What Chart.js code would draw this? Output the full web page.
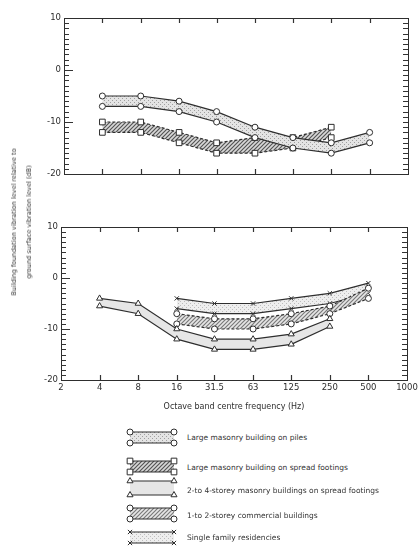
<!DOCTYPE html>
<html>
<head>
<meta charset="utf-8">
<script src="https://cdn.jsdelivr.net/npm/chart.js@4/dist/chart.umd.min.js"></script>
<style>
  body { margin: 0; background: #fff; width: 418px; height: 548px; overflow: hidden; position: relative; font-family: "DejaVu Sans", sans-serif; color: #333; }
  canvas { position: absolute; left: 0; }
  #ytitle { position: absolute; left: 22px; top: 222px; transform: translate(-50%, -50%) rotate(-90deg); white-space: nowrap; text-align: center; font-size: 6.5px; line-height: 15px; }
  .key { position: absolute; left: 126px; }
  .keytext { position: absolute; left: 187px; font-size: 7.5px; white-space: nowrap; transform: translateY(-50%); }
</style>
</head>
<body>
<canvas id="upper" width="418" height="190" style="top:0"></canvas>
<canvas id="lower" width="418" height="210" style="top:209px"></canvas>
<div id="ytitle">Building foundation vibration level relative to<br>ground surface vibration level (dB)</div>
<div id="legend"></div>
<script>
// octave band centre frequencies (Hz)
const freqs = [4, 8, 16, 31.5, 63, 125, 250, 500];
const freqTicks = [2, 4, 8, 16, 31.5, 63, 125, 250, 500, 1000];
const levelTicks = [-20, -10, 0, 10];

// upper plot (dB), starting at 4 Hz
const pilesHigh = [-5, -5, -6, -8, -11, -13, -14, -12];
const pilesLow = [-7, -7, -8, -10, -13, -15, -16, -14];
const spreadHigh = [-10, -10, -12, -14, -13, -13, -11];
const spreadLow = [-12, -12, -14, -16, -16, -15, -13];

// lower plot (dB); storey from 4 Hz, the other two from 16 Hz
const storeyHigh = [-4, -5, -10, -12, -12, -11, -8];
const storeyLow = [-5.5, -7, -12, -14, -14, -13, -9.5];
const commercialHigh = [-7, -8, -8, -7, -5.5, -2];
const commercialLow = [-9, -10, -10, -9, -7, -4];
const familyHigh = [-4, -5, -5, -4, -3, -1];
const familyLow = [-6, -7, -7, -6, -5, -3];

const legendLabels = [
  'Large masonry building on piles',
  'Large masonry building on spread footings',
  '2-to 4-storey masonry buildings on spread footings',
  '1-to 2-storey commercial buildings',
  'Single family residencies'
];

const ink = '#2e2e2e';
const tickFont = { family: 'DejaVu Sans', size: 8.5 };
// length of the inward tick marks, per scale id
const markLength = { x: 5, xTop: 5, y: 9, yMinor: 5, yRight: 5 };

function stipple(bg, dot) {
  const c = document.createElement('canvas');
  c.width = 4; c.height = 4;
  const g = c.getContext('2d');
  g.fillStyle = bg; g.fillRect(0, 0, 4, 4);
  g.fillStyle = dot; g.fillRect(0, 0, 1, 1); g.fillRect(2, 2, 1, 1);
  return g.createPattern(c, 'repeat');
}

function hatch(bg, line) {
  const c = document.createElement('canvas');
  c.width = 4; c.height = 4;
  const g = c.getContext('2d');
  g.fillStyle = bg; g.fillRect(0, 0, 4, 4);
  g.strokeStyle = line; g.lineWidth = 1.2;
  g.beginPath();
  g.moveTo(0, 4); g.lineTo(4, 0);
  g.moveTo(-1, 1); g.lineTo(1, -1);
  g.moveTo(3, 5); g.lineTo(5, 3);
  g.stroke();
  return g.createPattern(c, 'repeat');
}

const styles = [
  { marker: 'circle', r: 3, fill: stipple('#e4e4e4', '#a0a0a0'), dash: [] },
  { marker: 'rect', r: 4, fill: hatch('#d8d8d8', '#555'), dash: [3, 2] },
  { marker: 'triangle', r: 3.5, fill: '#e6e6e6', dash: [] },
  { marker: 'circle', r: 3, fill: hatch('#e6e6e6', '#7a7a7a'), dash: [3, 2] },
  { marker: 'crossRot', r: 3, fill: stipple('#eeeeee', '#bdbdbd'), dash: [] }
];

// tick marks drawn inside the frame, at each scale's own ticks
const innerTicks = {
  id: 'innerTicks',
  afterDatasetsDraw(chart) {
    const ctx = chart.ctx;
    const a = chart.chartArea;
    ctx.save();
    ctx.setLineDash([]);
    ctx.strokeStyle = '#333';
    ctx.lineWidth = 1.2;
    ctx.beginPath();
    Object.keys(chart.scales).forEach(id => {
      const s = chart.scales[id];
      const len = markLength[id] || 5;
      s.ticks.forEach(t => {
        const p = Math.round(s.getPixelForValue(t.value)) + 0.5;
        if (s.isHorizontal()) {
          if (p <= a.left + 1 || p >= a.right - 1) return;
          const y0 = s.position === 'top' ? a.top : a.bottom;
          const dir = s.position === 'top' ? 1 : -1;
          ctx.moveTo(p, y0); ctx.lineTo(p, y0 + dir * len);
        } else {
          if (p <= a.top + 1 || p >= a.bottom - 1) return;
          const x0 = s.position === 'left' ? a.left : a.right;
          const dir = s.position === 'left' ? 1 : -1;
          ctx.moveTo(x0, p); ctx.lineTo(x0 + dir * len, p);
        }
      });
    });
    ctx.stroke();
    ctx.restore();
  }
};

function pts(arr, start) {
  return arr.map((v, i) => ({ x: freqs[start + i], y: v }));
}

function band(high, low, start, st) {
  const line = {
    borderColor: ink, borderWidth: 1.2, borderDash: st.dash, tension: 0,
    pointStyle: st.marker, pointRadius: st.r, pointBackgroundColor: '#fff',
    pointBorderColor: ink, pointBorderWidth: 1
  };
  return [
    Object.assign({}, line, { data: pts(high, start), fill: false }),
    Object.assign({}, line, { data: pts(low, start), fill: '-1', backgroundColor: st.fill })
  ];
}

function scales(showX, leftW, rightW, bottomH) {
  const noGrid = { display: false, drawTicks: false };
  const freqAxis = (pos, h, labels) => ({
    type: 'logarithmic', position: pos, min: 2, max: 1000,
    afterBuildTicks: s => { s.ticks = freqTicks.map(v => ({ value: v })); },
    ticks: { display: labels, autoSkip: false, maxRotation: 0, padding: 3, color: ink, font: tickFont, callback: v => String(v) },
    grid: noGrid,
    border: { color: ink },
    afterFit: s => { s.height = h; s.paddingLeft = 0; s.paddingRight = 0; }
  });
  const x = freqAxis('bottom', bottomH, showX);
  x.title = { display: showX, text: 'Octave band centre frequency (Hz)', color: ink,
              font: { family: 'DejaVu Sans', size: 8 }, padding: { top: 0, bottom: 7 } };
  return {
    x: x,
    xTop: freqAxis('top', 18, false),
    y: {
      position: 'left', weight: 1, min: -20, max: 10,
      afterBuildTicks: s => { s.ticks = levelTicks.map(v => ({ value: v })); },
      ticks: { padding: 3, color: ink, font: tickFont },
      grid: noGrid, border: { color: ink },
      afterFit: s => { s.width = leftW; }
    },
    yMinor: {
      position: 'left', weight: 0, min: -20, max: 10,
      ticks: { display: false, stepSize: 1 },
      grid: noGrid, border: { display: false },
      afterFit: s => { s.width = 0; }
    },
    yRight: {
      position: 'right', min: -20, max: 10,
      ticks: { display: false, stepSize: 1 },
      grid: noGrid, border: { color: ink },
      afterFit: s => { s.width = rightW; }
    }
  };
}

function makeChart(id, datasets, showX, leftW, rightW, bottomH) {
  return new Chart(document.getElementById(id), {
    type: 'line',
    data: { datasets: datasets },
    options: {
      responsive: false,
      animation: false,
      layout: { padding: 0 },
      plugins: { legend: { display: false }, tooltip: { enabled: false } },
      scales: scales(showX, leftW, rightW, bottomH)
    },
    plugins: [innerTicks]
  });
}

makeChart('upper',
  band(pilesHigh, pilesLow, 0, styles[0]).concat(band(spreadHigh, spreadLow, 0, styles[1])),
  false, 64, 10, 16);

makeChart('lower',
  band(storeyHigh, storeyLow, 0, styles[2])
    .concat(band(commercialHigh, commercialLow, 2, styles[3]))
    .concat(band(familyHigh, familyLow, 2, styles[4])),
  true, 61, 11, 39);

// legend keys
const keyTops = [428, 457, 477, 504, 528];
const keyText = [437, 467, 490, 515, 537];
const keyGap = [11, 11, 14, 11, 11];
const legend = document.getElementById('legend');
legendLabels.forEach((label, i) => {
  const st = styles[i];
  const c = document.createElement('canvas');
  c.width = 54; c.height = 24;
  c.className = 'key';
  c.style.top = keyTops[i] + 'px';
  const g = c.getContext('2d');
  const y1 = 4, y2 = 4 + keyGap[i], xa = 4, xb = 48;
  g.fillStyle = st.fill;
  g.fillRect(xa, y1, xb - xa, y2 - y1);
  g.strokeStyle = ink; g.lineWidth = 1.2;
  [y1, y2].forEach(y => {
    g.beginPath(); g.moveTo(xa, y); g.lineTo(xb, y); g.stroke();
  });
  g.fillStyle = '#fff'; g.lineWidth = 1;
  [y1, y2].forEach(y => {
    [xa, xb].forEach(x => {
      Chart.helpers.drawPoint(g, { pointStyle: st.marker, radius: st.r, borderWidth: 1 }, x, y);
    });
  });
  legend.appendChild(c);
  const t = document.createElement('div');
  t.className = 'keytext';
  t.style.top = keyText[i] + 'px';
  t.textContent = label;
  legend.appendChild(t);
});
</script>
</body>
</html>
